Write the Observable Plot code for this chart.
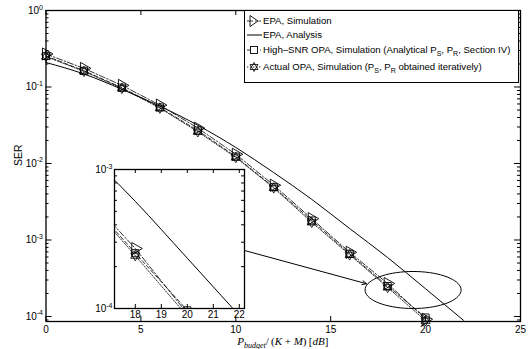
<!DOCTYPE html>
<html>
<head>
<meta charset="utf-8">
<script src="https://cdn.jsdelivr.net/npm/d3@7"></script>
<script src="https://cdn.jsdelivr.net/npm/@observablehq/plot@0.6"></script>
<style>
  body { margin: 0; background: #fff; }
  #wrap { position: relative; width: 529px; height: 349px; font-family: "Liberation Sans", Arial, Helvetica, sans-serif; }
  #main { position: absolute; left: 0; top: 0; }
  #inset { position: absolute; left: 90px; top: 163px; }
  #legend { position: absolute; left: 244px; top: 10px; width: 275px; height: 73px; border: 1px solid #000; background: #fff; box-sizing: border-box; font-size: 9.6px; color: #000; }
  .row { position: absolute; left: 0; height: 14px; width: 272px; }
  .row svg { position: absolute; left: 0; top: 0; }
  .row span { position: absolute; left: 18px; top: 0; line-height: 14px; white-space: nowrap; }
  sub { font-size: 7px; vertical-align: -3px; line-height: 0; }
</style>
</head>
<body>
<div id="wrap">
  <div id="main"></div>
  <div id="inset"></div>
  <div id="legend"></div>
</div>
<script>
// ---------- data ----------
const snrSim = [0, 2, 4, 6, 8, 10, 12, 14, 16, 18, 20];
const serEpaSim      = [0.27, 0.175, 0.105, 0.058, 0.029, 0.0132, 0.0052, 0.0019, 6.9e-4, 2.7e-4, 9.2e-5];
const serHighSnrOpa  = [0.255, 0.163, 0.098, 0.054, 0.027, 0.0123, 0.0049, 0.0018, 6.6e-4, 2.5e-4, 9.7e-5];
const serActualOpa   = [0.25, 0.16, 0.096, 0.053, 0.026, 0.012, 0.0048, 0.0017, 6.4e-4, 2.4e-4, 8.8e-5];
const snrAnalysis    = [0, 2, 4, 6, 8, 10, 12, 14, 16, 18, 20, 22];
const serEpaAnalysis = [0.209, 0.148, 0.0933, 0.0562, 0.0316, 0.0162, 0.0076, 0.0034, 0.00141, 5.9e-4, 2.3e-4, 8.9e-5];

const seriesNames = [
  "EPA, Simulation",
  "EPA, Analysis",
  "High–SNR OPA, Simulation (Analytical P<sub>S</sub>, P<sub>R</sub>, Section IV)",
  "Actual OPA, Simulation (P<sub>S</sub>, P<sub>R</sub> obtained iteratively)"
];

const xTicks = [0, 5, 10, 15, 20, 25];
const yTicks = [1, 1e-1, 1e-2, 1e-3, 1e-4];
const yMinorTicks = [-1, -2, -3, -4, -5].flatMap(e => [2,3,4,5,6,7,8,9].map(m => m * Math.pow(10, e))).filter(v => v > 8.6e-5 && v < 1);

const insetXTicks = [18, 19, 20, 21, 22];
const insetYTicks = [1e-4, 1e-3];
const insetYMinor = [2e-4, 3e-4, 4e-4, 5e-4, 6e-4, 7e-4, 8e-4, 9e-4];

// annotation: arrow from inset toward the ellipse, and the ellipse (data coords)
const arrowAnn = [{x1: 10.45, y1: 7.3e-4, x2: 16.89, y2: 2.68e-4}];
const ellipseAnn = {cx: 19.34, cy: 2.22e-4, rx: 2.53, ryDecades: 0.242};

// ---------- rows ----------
const rows = (xs, ys) => xs.map((x, i) => ({x, y: ys[i]}));
const epaSim = rows(snrSim, serEpaSim);
const hsOpa = rows(snrSim, serHighSnrOpa);
const actOpa = rows(snrSim, serActualOpa);
const epaAna = rows(snrAnalysis, serEpaAnalysis);
const ellipsePts = d3.range(0, 72).map(k => {
  const t = k / 72 * 2 * Math.PI;
  return {x: ellipseAnn.cx + ellipseAnn.rx * Math.cos(t),
          y: ellipseAnn.cy * Math.pow(10, ellipseAnn.ryDecades * Math.sin(t))};
});

const dashEpa = "6,2,1.5,2";
const dashHs = "4,2.5";
const dashAct = "1.5,1.5";
const supFmt = d => "10^" + Math.round(Math.log10(d));

function curveMarks(clip) {
  return [
    Plot.line(epaAna, {x: "x", y: "y", stroke: "#000", strokeWidth: 1, curve: "monotone-x", clip}),
    Plot.line(epaSim, {x: "x", y: "y", stroke: "#000", strokeWidth: 0.8, strokeDasharray: dashEpa, clip}),
    Plot.line(hsOpa, {x: "x", y: "y", stroke: "#000", strokeWidth: 0.8, strokeDasharray: dashHs, clip}),
    Plot.line(actOpa, {x: "x", y: "y", stroke: "#000", strokeWidth: 0.8, strokeDasharray: dashAct, clip}),
    Plot.dot(epaSim, {x: "x", y: "y", symbol: "triangle", rotate: 90, r: 4.5, stroke: "#000", fill: "none", strokeWidth: 0.9, clip}),
    Plot.dot(hsOpa, {x: "x", y: "y", symbol: "square", r: 4, stroke: "#000", fill: "none", strokeWidth: 0.9, clip}),
    Plot.dot(actOpa, {x: "x", y: "y", symbol: "triangle", r: 3.4, stroke: "#000", fill: "none", strokeWidth: 0.8, clip}),
    Plot.dot(actOpa, {x: "x", y: "y", symbol: "triangle", rotate: 180, r: 3.4, stroke: "#000", fill: "none", strokeWidth: 0.8, clip})
  ];
}

function fixSup(svg) {
  d3.select(svg).selectAll('g[aria-label="y-axis tick label"] text').each(function() {
    const t = this.textContent;
    if (t.includes("^")) {
      const [b, e] = t.split("^");
      const sel = d3.select(this);
      sel.text(b);
      sel.append("tspan").attr("dy", "-0.6em").attr("font-size", "7px").text(e);
    }
  });
}

// ---------- main plot ----------
const W = 529, H = 349, mL = 45.5, mR = 9, mT = 10, mB = 28;
const pw = W - mL - mR, ph = H - mT - mB;

const main = Plot.plot({
  width: W, height: H,
  marginLeft: mL, marginRight: mR, marginTop: mT, marginBottom: mB,
  style: {fontFamily: '"Liberation Sans", Arial, Helvetica, sans-serif', fontSize: "10px", background: "transparent", color: "#000"},
  x: {domain: [0, 25]},
  y: {type: "log", domain: [8.6e-5, 1]},
  marks: [
    Plot.axisX(xTicks, {tickSize: 0, tickPadding: 4, label: null, fontSize: 10}),
    Plot.axisY(yTicks, {tickSize: 0, tickPadding: 3, label: null, tickFormat: supFmt, fontSize: 10}),
    Plot.ruleX(xTicks, {insetTop: ph - 5, stroke: "#000"}),
    Plot.ruleX(xTicks, {insetBottom: ph - 5, stroke: "#000"}),
    Plot.ruleY(yTicks, {insetRight: pw - 6, stroke: "#000"}),
    Plot.ruleY(yTicks, {insetLeft: pw - 6, stroke: "#000"}),
    Plot.ruleY(yMinorTicks, {insetRight: pw - 3, stroke: "#000"}),
    Plot.ruleY(yMinorTicks, {insetLeft: pw - 3, stroke: "#000"}),
    ...curveMarks(false),
    Plot.arrow(arrowAnn, {x1: "x1", y1: "y1", x2: "x2", y2: "y2", stroke: "#000", strokeWidth: 1, headLength: 7, headAngle: 50}),
    Plot.line(ellipsePts, {x: "x", y: "y", curve: "linear-closed", stroke: "#000", strokeWidth: 1}),
    Plot.text(["SER"], {frameAnchor: "left", dx: -27, rotate: -90, fontSize: 10.5, fill: "#000"}),
    Plot.frame({stroke: "#000", strokeWidth: 1.3})
  ]
});
fixSup(main);
// x label (LaTeX-like, with subscript)
{
  const xl = d3.select(main).append("text")
    .attr("x", mL + pw / 2).attr("y", 345)
    .attr("text-anchor", "middle")
    .attr("font-family", '"Liberation Serif", "DejaVu Serif", serif')
    .attr("font-size", 11).attr("fill", "#000");
  xl.append("tspan").attr("font-style", "italic").text("P");
  xl.append("tspan").attr("font-style", "italic").attr("font-size", 8).attr("dy", 2.5).text("budget");
  xl.append("tspan").attr("dy", -2.5).text("/\u2009(");
  xl.append("tspan").attr("font-style", "italic").text("K");
  xl.append("tspan").text(" + ");
  xl.append("tspan").attr("font-style", "italic").text("M");
  xl.append("tspan").text(")\u2009[");
  xl.append("tspan").attr("font-style", "italic").text("dB");
  xl.append("tspan").text("]");
}
document.getElementById("main").appendChild(main);

// ---------- inset ----------
const iW = 158, iH = 161, iL = 24, iR = 4, iT = 6, iB = 16;
const ipw = iW - iL - iR, iph = iH - iT - iB;
const inset = Plot.plot({
  width: iW, height: iH,
  marginLeft: iL, marginRight: iR, marginTop: iT, marginBottom: iB,
  style: {fontFamily: '"Liberation Sans", Arial, Helvetica, sans-serif', fontSize: "10px", background: "transparent", color: "#000", overflow: "visible"},
  x: {domain: [17.2, 22.2]},
  y: {type: "log", domain: [1e-4, 1e-3]},
  marks: [
    Plot.frame({fill: "#fff"}),
    Plot.axisX(insetXTicks, {tickSize: 0, tickPadding: 2, label: null, fontSize: 10}),
    Plot.axisY(insetYTicks, {tickSize: 0, tickPadding: 2, label: null, tickFormat: supFmt, fontSize: 10}),
    Plot.ruleX(insetXTicks, {insetTop: iph - 4, stroke: "#000"}),
    Plot.ruleX(insetXTicks, {insetBottom: iph - 4, stroke: "#000"}),
    Plot.ruleY(insetYMinor, {insetRight: ipw - 3, stroke: "#000"}),
    Plot.ruleY(insetYMinor, {insetLeft: ipw - 3, stroke: "#000"}),
    ...curveMarks(true),
    Plot.frame({stroke: "#000", strokeWidth: 1.3})
  ]
});
fixSup(inset);
document.getElementById("inset").appendChild(inset);

// ---------- legend ----------
const legendRowsY = [3, 17, 32, 49];
const legendSym = [
  `<line x1="2" y1="7" x2="16" y2="7" stroke="#000" stroke-dasharray="${dashEpa}" stroke-width="0.8"/><path d="M5,1.5 L13,7 L5,12.5 Z" fill="none" stroke="#000" stroke-width="0.9"/>`,
  `<line x1="2" y1="7" x2="17" y2="7" stroke="#000" stroke-width="1"/>`,
  `<line x1="2" y1="7" x2="16" y2="7" stroke="#000" stroke-dasharray="${dashHs}" stroke-width="0.8"/><rect x="5.5" y="3.5" width="7" height="7" fill="#fff" stroke="#000" stroke-width="0.9"/>`,
  `<line x1="2" y1="7" x2="16" y2="7" stroke="#000" stroke-dasharray="${dashAct}" stroke-width="0.8"/><path d="M9,2.5 L13,9.5 L5,9.5 Z M9,11.5 L13,4.5 L5,4.5 Z" fill="none" stroke="#000" stroke-width="0.8"/>`
];
const legend = document.getElementById("legend");
seriesNames.forEach((name, i) => {
  const row = document.createElement("div");
  row.className = "row";
  row.style.top = legendRowsY[i] + "px";
  row.innerHTML = `<svg width="18" height="14">${legendSym[i]}</svg><span>${name}</span>`;
  legend.appendChild(row);
});
</script>
</body>
</html>
